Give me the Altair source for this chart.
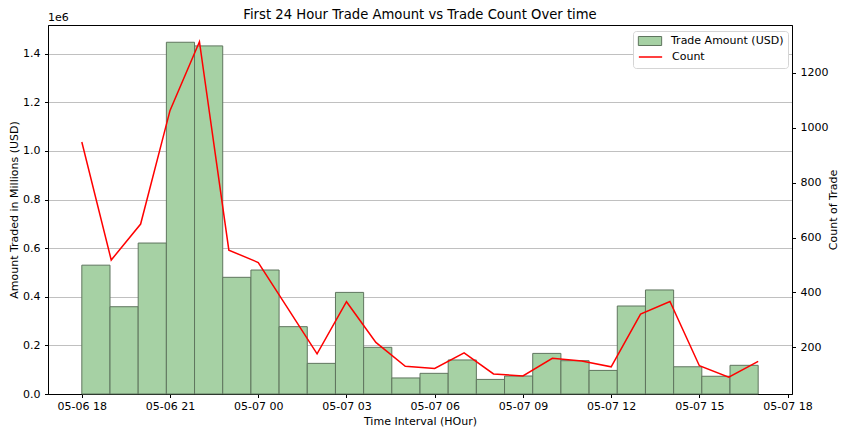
import numpy as np
import pandas as pd
import altair as alt

# Hours since 05-06 00:00 (one point per hour for the first 24 hours)
hours = [18, 19, 20, 21, 22, 23, 24, 25, 26, 27, 28, 29,
         30, 31, 32, 33, 34, 35, 36, 37, 38, 39, 40, 41]

# Number of trades per hour
trade_count = [948, 518, 649, 1063, 1313, 554, 509, 343, 176, 366, 218, 131,
               123, 180, 103, 96, 160, 150, 129, 321, 367, 133, 91, 149]

# Traded amount (USD) per histogram bin, 24 bins over the same time span
trade_amount = [530000, 359000, 621000, 1447000, 1432000, 480000, 510000, 277000,
                126000, 418000, 192000, 66000, 85000, 140000, 60000, 74000,
                167000, 137000, 97000, 362000, 428000, 112000, 73000, 118000]

x_ticks = [18, 21, 24, 27, 30, 33, 36, 39, 42]

# Histogram bin edges like plt.hist(bins=24) over the hour range
edges = np.linspace(hours[0], hours[-1], len(trade_amount) + 1)
bars_df = pd.DataFrame({
    "start": edges[:-1],
    "end": edges[1:],
    "amount": trade_amount,
    "series": "Trade Amount (USD)",
})
line_df = pd.DataFrame({"hour": hours, "count": trade_count, "series": "Count"})

FONT = "DejaVu Sans"
BAR_FILL = "#a6d1a4"
BAR_EDGE = "#5f755e"
TICK_FS = 11

x_axis = alt.Axis(
    values=x_ticks,
    labelExpr="'05-0' + (6 + floor(datum.value / 24)) + ' ' + "
              "(datum.value % 24 < 10 ? '0' : '') + (datum.value % 24)",
    title="Time Interval (HOur)",
    titlePadding=4,
    labelPadding=3,
    grid=False,
)
x_scale = alt.Scale(domain=[16.85, 42.15], nice=False, zero=False)

# two legends drawn as one matplotlib-style box: the first one's blank
# bottom title reserves the room where the second row sits
legend_common = dict(
    orient="none",
    legendX=585,
    padding=4,
    symbolSize=112,
    symbolOffset=7,
    labelOffset=15,
    labelFontSize=11,
    labelColor="black",
    labelFont=FONT,
)

bars = alt.Chart(bars_df).mark_rect(
    stroke=BAR_EDGE, strokeWidth=1
).encode(
    x=alt.X("start:Q", scale=x_scale, axis=x_axis),
    x2="end:Q",
    y=alt.Y(
        "amount:Q",
        scale=alt.Scale(domain=[0, 1518000], nice=False),
        axis=alt.Axis(
            values=[0, 200000, 400000, 600000, 800000, 1000000, 1200000, 1400000],
            labelExpr="format(datum.value / 1000000, '.1f')",
            title="Amount Traded in Millions (USD)",
            labelPadding=4.5,
            titlePadding=3,
            grid=True,
            gridColor="#b0b0b0",
            gridWidth=0.8,
        ),
    ),
    fill=alt.Fill(
        "series:N",
        scale=alt.Scale(domain=["Trade Amount (USD)"], range=[BAR_FILL]),
        legend=alt.Legend(
            title=" ",
            titleOrient="bottom",
            titleFontSize=14,
            titlePadding=3,
            legendY=6,
            fillColor="white",
            strokeColor="#d5d5d5",
            cornerRadius=3,
            symbolType="M-2.2,-0.85H2.2V0.85H-2.2Z",
            symbolStrokeColor=BAR_EDGE,
            symbolStrokeWidth=1,
            zindex=0,
            **legend_common,
        ),
    ),
)

line = alt.Chart(line_df).mark_line(strokeWidth=1.5).encode(
    x=alt.X("hour:Q", scale=x_scale, axis=x_axis),
    y=alt.Y(
        "count:Q",
        scale=alt.Scale(domain=[30, 1374], nice=False, zero=False),
        axis=alt.Axis(
            orient="right",
            values=[200, 400, 600, 800, 1000, 1200],
            format="d",
            title="Count of Trade",
            titleAngle=270,
            labelPadding=4.5,
            titlePadding=11,
            grid=False,
        ),
    ),
    stroke=alt.Stroke(
        "series:N",
        scale=alt.Scale(domain=["Count"], range=["red"]),
        legend=alt.Legend(
            title=None,
            legendY=21.5,
            symbolType="M-2.2,0H2.2",
            symbolStrokeWidth=1.5,
            zindex=1,
            **legend_common,
        ),
    ),
)

# matplotlib's offset text for the left axis
offset_text = alt.Chart(pd.DataFrame({"t": ["1e6"]})).mark_text(
    align="left", baseline="bottom", fontSize=TICK_FS, font=FONT, color="black"
).encode(text="t:N", x=alt.value(0), y=alt.value(-2.2))

chart = alt.layer(bars, line, offset_text).resolve_scale(
    y="independent"
).properties(
    width=744,
    height=369,
    autosize=alt.AutoSizeParams(type="none"),
    padding={"left": 40, "top": 17, "right": 48, "bottom": 38},
    title=alt.TitleParams(
        "First 24 Hour Trade Amount vs Trade Count Over time",
        fontSize=13.2, fontWeight="normal", font=FONT, anchor="middle",
        offset=-10.3,
    ),
).configure(
    font=FONT,
).configure_axis(
    labelFont=FONT,
    titleFont=FONT,
    labelFontSize=TICK_FS,
    titleFontSize=TICK_FS,
    titleFontWeight="normal",
    labelColor="black",
    titleColor="black",
    domainColor="black",
    tickColor="black",
    tickSize=3.5,
).configure_view(
    stroke="black",
    strokeWidth=1,
)

chart.save("out.html", embed_options={"renderer": "svg", "actions": False})
